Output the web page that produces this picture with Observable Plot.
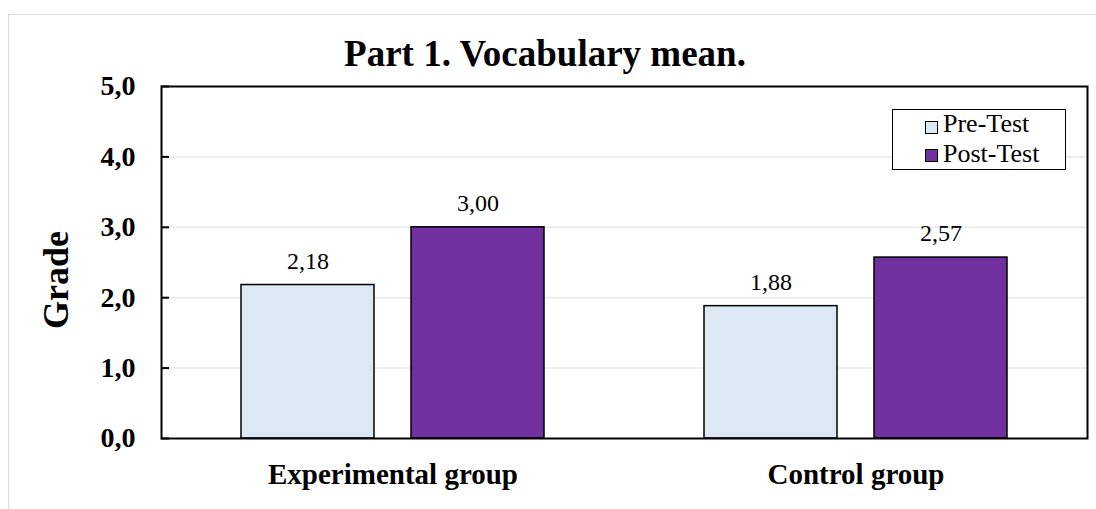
<!DOCTYPE html>
<html>
<head>
<meta charset="utf-8">
<script src="https://cdn.jsdelivr.net/npm/d3@7"></script>
<script src="https://cdn.jsdelivr.net/npm/@observablehq/plot@0.6"></script>
<style>
  html, body { margin: 0; padding: 0; background: #fff; overflow: hidden; width: 1096px; height: 509px; }
  body { position: relative; font-family: "Liberation Serif", "Times New Roman", serif; color: #000; }
  #border { position: absolute; left: 8px; top: 14px; width: 1200px; height: 700px; border: 1.5px solid #d9d9d9; box-sizing: border-box; }
  #chart { position: absolute; left: 0; top: 0; }
  #title { position: absolute; left: 0; width: 1090px; top: 35px; text-align: center; font-size: 37px; line-height: 37px; font-weight: bold; white-space: nowrap; }
  #ylabel { position: absolute; width: 200px; left: -44.5px; top: 261.5px; text-align: center; font-size: 36px; line-height: 36px; font-weight: bold; transform: rotate(-90deg); transform-origin: 100px 18px; }
  #legend { position: absolute; left: 892px; top: 109px; width: 174px; height: 61px; border: 1.5px solid #000; box-sizing: border-box; background: #fff; }
  .sw { position: absolute; width: 13px; height: 13px; border: 1.3px solid #000; box-sizing: border-box; }
  .lt { position: absolute; font-size: 26px; line-height: 26px; white-space: nowrap; }
  svg text { font-family: "Liberation Serif", "Times New Roman", serif; }
</style>
</head>
<body>
<div id="border"></div>
<div id="chart"></div>
<div id="title"></div>
<div id="ylabel"></div>
<div id="legend"></div>
<script>
const titleText = "Part 1. Vocabulary mean.";
const yLabel = "Grade";
const groups = ["Experimental group", "Control group"];
const series = ["Pre-Test", "Post-Test"];
const preValues = [2.18, 1.88];
const postValues = [3.00, 2.57];
const yTicks = [0, 1, 2, 3, 4, 5];
const seriesColors = ["#dde8f5", "#7030a0"];

const rows = groups.flatMap((g, i) => [
  {group: g, series: series[0], value: preValues[i]},
  {group: g, series: series[1], value: postValues[i]}
]);

const fmt1 = d => d.toFixed(1).replace(".", ",");
const fmt2 = d => d.toFixed(2).replace(".", ",");
const font = "'Liberation Serif', 'Times New Roman', serif";

function build(useSuper) {
  const frameMarks = useSuper
    ? [Plot.frame({facet: "super", stroke: "#000", strokeWidth: 2})]
    : [
        Plot.ruleY([0, 5], {stroke: "#000", strokeWidth: 2}),
        Plot.frame({anchor: "left", fx: () => groups[0], stroke: "#000", strokeWidth: 2}),
        Plot.frame({anchor: "right", fx: () => groups[groups.length - 1], stroke: "#000", strokeWidth: 2})
      ];
  return Plot.plot({
    width: 1096,
    height: 509,
    marginLeft: 160,
    marginRight: 9,
    marginTop: 86,
    marginBottom: 71,
    style: {fontFamily: font, background: "none", overflow: "visible"},
    fx: {domain: groups, padding: 0, label: null},
    x: {domain: series, paddingInner: 0.215, paddingOuter: 0.467, axis: null},
    y: {domain: [0, 5], label: null},
    color: {domain: series, range: seriesColors},
    marks: [
      Plot.gridY(yTicks.slice(1, -1), {stroke: "#e9e9e9", strokeOpacity: 1, strokeWidth: 1.5}),
      Plot.barY(rows, {fx: "group", x: "series", y: "value", fill: "series", stroke: "#000", strokeWidth: 1.5}),
      Plot.text(rows, {fx: "group", x: "series", y: "value", text: d => fmt2(d.value), dy: -24, fontSize: 24, fontFamily: font, fill: "#000"}),
      Plot.axisY(yTicks, {tickSize: -8, tickPadding: 34, tickFormat: fmt1, fontSize: 28, fontWeight: "bold", fontFamily: font, label: null, strokeWidth: 2, fill: "#000", stroke: "#000"}),
      Plot.axisFx({anchor: "bottom", tickSize: 0, tickPadding: 25, fontSize: 29, fontWeight: "bold", fontFamily: font, label: null, fill: "#000"}),
      ...frameMarks
    ]
  });
}

let chart;
try { chart = build(true); } catch (e) { chart = build(false); }
document.getElementById("chart").append(chart);

document.getElementById("title").textContent = titleText;
document.getElementById("ylabel").textContent = yLabel;

const legend = document.getElementById("legend");
series.forEach((s, i) => {
  const sw = document.createElement("div");
  sw.className = "sw";
  sw.style.left = (923.5 - 892) + "px";
  sw.style.top = (119.5 - 109 + i * 28.5) + "px";
  sw.style.background = seriesColors[i];
  legend.append(sw);
  const t = document.createElement("div");
  t.className = "lt";
  t.style.left = (942 - 892) + "px";
  t.style.top = (111.5 - 109 - 1.5 + i * 30) + "px";
  t.textContent = s;
  legend.append(t);
});
</script>
</body>
</html>
